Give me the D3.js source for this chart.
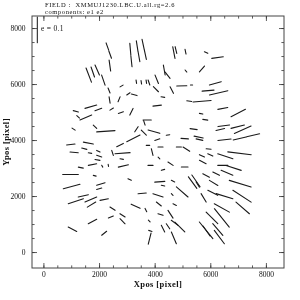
<!DOCTYPE html>
<html>
<head>
<meta charset="utf-8">
<script src="https://cdn.jsdelivr.net/npm/d3@7"></script>
<style>
  body { margin: 0; background: #fff; }
  svg { will-change: transform; }
  text { font-family: "Liberation Serif", serif; fill: #111; }
</style>
</head>
<body>
<svg id="chart" width="300" height="300"></svg>
<script>
// whisker positions (pixel units of the image) and ellipticity
var xpos = [2300, 2400, 2390, 1630, 1775, 1935, 2155, 2360, 2810, 2380, 2720, 3055, 3265, 1705, 1975, 1165, 1525, 2455, 2785, 2245,
  985, 1615, 2755, 3235, 1855, 1085, 1250, 3125, 3165, 3370, 3435, 3585, 3665, 4690, 4765, 5110, 4345, 4465, 4075, 3340,
  3520, 3700, 3795, 4045, 4615, 4975, 5325, 4295, 5245, 5705, 4090, 3165, 3730, 3630, 3345, 3610, 3975, 5400, 5850, 6260,
  5700, 5125, 6180, 5920, 6300, 6450, 7005, 5670, 5820, 6485, 6360, 6985, 7165, 7055, 7540, 5080, 5580, 6510, 1105, 1470,
  1675, 1975, 2485, 2845, 2005, 1945, 1345, 1765, 2875, 975, 1845, 1015, 2065, 2005, 1165, 1435, 1705, 1730, 2185, 2485,
  2425, 2845, 2845, 1765, 1045, 2185, 4095, 4480, 3760, 3910, 4210, 4870, 5140, 3850, 4300, 4570, 5080, 4185, 4660, 4990,
  5365, 5485, 3550, 4120, 3315, 4150, 4210, 4570, 4720, 4905, 4300, 4480, 3845, 3820, 4690, 5610, 5940, 5700, 6000, 6540,
  7050, 5730, 6450, 6840, 6600, 5850, 6210, 6120, 7075, 5550, 5760, 6090, 6510, 7140, 6415, 7165, 6060, 6415, 5850, 6270,
  6325, 5865, 3685, 3805, 3100, 4155, 4720, 4630, 4300, 2815, 2115, 2335];
var ypos = [7340, 7050, 6660, 6320, 6430, 6500, 6140, 5770, 5930, 5430, 5455, 5650, 5615, 5190, 5090, 5025, 4805, 5105, 4980, 4315,
  3840, 3890, 3820, 4060, 4475, 4390, 4830, 7245, 6815, 7360, 6980, 7415, 7050, 7125, 7215, 7155, 6500, 6315, 6170, 6085,
  6060, 6085, 6055, 5815, 5785, 5935, 5965, 5535, 5390, 5385, 5230, 5010, 4715, 4615, 4385, 4265, 4300, 4390, 7125, 6945,
  6540, 6465, 6025, 5765, 5685, 5130, 4965, 4940, 4725, 4510, 4375, 4475, 4370, 4055, 4170, 4050, 4105, 4010, 3560, 3690,
  3535, 3600, 3540, 3530, 3425, 3290, 3015, 3125, 3075, 2770, 2725, 2340, 2430, 2260, 1815, 2005, 1875, 1695, 1875, 1550,
  1250, 1310, 1100, 1090, 815, 670, 4015, 4180, 3810, 3570, 3750, 3750, 3675, 3095, 2935, 3155, 3035, 2510, 2530, 2145,
  2480, 2540, 2095, 2025, 1635, 1715, 1340, 1350, 1045, 895, 835, 920, 755, 480, 505, 4015, 3680, 3435, 3470, 3420,
  3525, 3215, 3095, 3005, 2830, 2735, 2800, 2470, 2440, 2410, 1935, 2115, 1995, 1995, 1575, 1575, 1220, 1220, 775, 805,
  535, 750, 1500, 1110, 2590, 3360, 1695, 2055, 2370, 3320, 3065, 3095];
var emod = [0.029, 0.029, 0.042, 0.057, 0.040, 0.041, 0.040, 0.020, 0.013, 0.024, 0.020, 0.015, 0.022, 0.046, 0.027, 0.020, 0.048, 0.015, 0.020, 0.069,
  0.032, 0.038, 0.028, 0.056, 0.018, 0.014, 0.014, 0.044, 0.042, 0.039, 0.039, 0.039, 0.037, 0.045, 0.026, 0.018, 0.038, 0.030, 0.034, 0.013,
  0.013, 0.013, 0.020, 0.027, 0.028, 0.038, 0.008, 0.014, 0.019, 0.068, 0.032, 0.028, 0.031, 0.018, 0.023, 0.027, 0.046, 0.027, 0.014, 0.044,
  0.029, 0.010, 0.046, 0.045, 0.071, 0.038, 0.061, 0.013, 0.019, 0.044, 0.033, 0.052, 0.069, 0.050, 0.050, 0.028, 0.035, 0.050, 0.031, 0.020,
  0.013, 0.014, 0.020, 0.057, 0.020, 0.019, 0.019, 0.032, 0.039, 0.059, 0.011, 0.065, 0.033, 0.020, 0.060, 0.039, 0.048, 0.037, 0.032, 0.023,
  0.020, 0.023, 0.027, 0.036, 0.036, 0.024, 0.020, 0.013, 0.013, 0.026, 0.019, 0.019, 0.030, 0.019, 0.013, 0.023, 0.025, 0.038, 0.014, 0.058,
  0.054, 0.054, 0.031, 0.040, 0.037, 0.024, 0.020, 0.035, 0.032, 0.053, 0.028, 0.023, 0.013, 0.043, 0.048, 0.026, 0.019, 0.021, 0.021, 0.060,
  0.089, 0.028, 0.038, 0.060, 0.048, 0.028, 0.028, 0.037, 0.086, 0.023, 0.037, 0.042, 0.066, 0.082, 0.065, 0.067, 0.062, 0.089, 0.081, 0.058,
  0.063, 0.046, 0.014, 0.009, 0.014, 0.009, 0.014, 0.009, 0.013, 0.013, 0.008, 0.008];
// position angle of each whisker, degrees from the x axis
var theta = [-70, -70, -82, -69, -71, -66, -71, -68, 30, -81, 68, 35, -15, 16, 20, -15, 23, 31, 18, 4,
  7, -11, 27, 27, -44, -34, -42, -85, -84, -81, -80, -78, -78, -79, -76, -78, -80, -52, -68, -81,
  -81, -81, -71, -45, -63, 2, 0, -9, -7, 5, 7, 64, 0, -72, 57, -45, -16, -8, -25, 8,
  49, -50, 16, 5, 13, 11, 27, -12, -8, 8, 13, 14, 24, 13, 13, -4, -12, 6, -5, -15,
  -10, -27, -72, 4, -19, -11, -11, 11, 13, 0, -15, 15, 17, 15, 18, 13, 23, 31, 11, -33,
  22, -33, -45, 28, -27, 39, 18, 10, 0, -76, 0, 0, -33, 0, 16, -33, 0, 4, -27, -41,
  -54, -55, 5, -18, -25, -39, -18, -57, -37, -45, -63, -56, -17, 76, -67, -13, -7, -25, -25, -18,
  -7, -27, 0, -18, -23, -27, -27, -31, -17, -57, -59, -27, -17, -33, -29, -41, -45, -51, -51, -49,
  -53, -55, -63, -45, -26, -45, -26, -45, -12, -10, -60, -80];

var titleLines = ["FIELD :  XMMUJ1230.LBC.U.all.rg=2.6", "components: e1 e2"];
var majorTicks = [0, 2000, 4000, 6000, 8000];
var minorTicks = d3.range(0, 8001, 500);
var legendE = 0.1;

var svg = d3.select('#chart');

var x = d3.scaleLinear().domain([-410, 8650]).range([32, 284]);
var y = d3.scaleLinear().domain([-570, 8430]).range([268, 16]);
// whisker length on screen for a given ellipticity
var lenPx = d3.scaleLinear().domain([0, 0.1]).range([0, 26.5]);

function addAxis(axisFn, tx, ty, ticks, size, pad) {
  var g = svg.append('g')
    .attr('transform', 'translate(' + tx + ',' + ty + ')')
    .call(axisFn.tickValues(ticks).tickSize(-size).tickPadding(pad || 0)
      .tickFormat(pad ? d3.format('d') : ''));
  g.select('.domain').remove();
  g.selectAll('.tick line').attr('stroke', '#333').attr('stroke-width', 0.8);
  g.selectAll('.tick text').style('font-size', '7.5px').attr('fill', '#111');
  return g;
}

addAxis(d3.axisBottom(x), 0, 268, majorTicks, 5, 3.5);
addAxis(d3.axisBottom(x), 0, 268, minorTicks, 2.6);
addAxis(d3.axisTop(x), 0, 16, majorTicks, 5);
addAxis(d3.axisTop(x), 0, 16, minorTicks, 2.6);
addAxis(d3.axisLeft(y), 32, 0, majorTicks, 5, 6.5);
addAxis(d3.axisLeft(y), 32, 0, minorTicks, 2.6);
addAxis(d3.axisRight(y), 284, 0, majorTicks, 5);
addAxis(d3.axisRight(y), 284, 0, minorTicks, 2.6);

// frame
svg.append('rect')
  .attr('x', 32).attr('y', 16)
  .attr('width', 252).attr('height', 252)
  .attr('fill', 'none')
  .attr('stroke', '#444')
  .attr('stroke-width', 1);

// whiskers
svg.append('g').selectAll('line')
  .data(d3.range(xpos.length))
  .join('line')
  .attr('x1', function (i) { return x(xpos[i]) - lenPx(emod[i]) / 2 * Math.cos(theta[i] * Math.PI / 180); })
  .attr('y1', function (i) { return y(ypos[i]) + lenPx(emod[i]) / 2 * Math.sin(theta[i] * Math.PI / 180); })
  .attr('x2', function (i) { return x(xpos[i]) + lenPx(emod[i]) / 2 * Math.cos(theta[i] * Math.PI / 180); })
  .attr('y2', function (i) { return y(ypos[i]) - lenPx(emod[i]) / 2 * Math.sin(theta[i] * Math.PI / 180); })
  .attr('stroke', '#1a1a1a')
  .attr('stroke-width', 1.1)
  .attr('stroke-linecap', 'round');

// legend bar e = 0.1
svg.append('line')
  .attr('x1', 37.3).attr('x2', 37.3)
  .attr('y1', 16.7).attr('y2', 16.7 + lenPx(legendE))
  .attr('stroke', '#111').attr('stroke-width', 1);
svg.append('text')
  .attr('x', 41).attr('y', 30.5)
  .style('font-size', '7.5px')
  .style('letter-spacing', '0.3px')
  .text('e = ' + legendE);

// titles
svg.selectAll('text.title')
  .data(titleLines)
  .join('text')
  .attr('class', 'title')
  .attr('x', 45)
  .attr('y', function (d, i) { return 6.5 + i * 7; })
  .style('font-size', '6.5px')
  .style('letter-spacing', '0.6px')
  .attr('xml:space', 'preserve')
  .text(function (d) { return d; });

svg.append('text')
  .attr('x', 158).attr('y', 286.5)
  .attr('text-anchor', 'middle')
  .style('font-size', '8.5px')
  .style('font-weight', 'bold')
  .style('letter-spacing', '0.4px')
  .text('Xpos [pixel]');

svg.append('text')
  .attr('transform', 'translate(9,142) rotate(-90)')
  .attr('text-anchor', 'middle')
  .style('font-size', '8.5px')
  .style('font-weight', 'bold')
  .style('letter-spacing', '0.4px')
  .text('Ypos [pixel]');
</script>
</body>
</html>
